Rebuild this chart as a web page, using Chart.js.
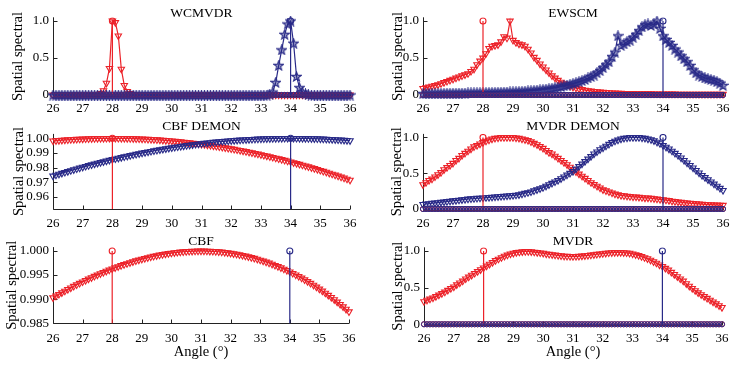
<!DOCTYPE html>
<html>
<head>
<meta charset="utf-8">
<script src="https://cdn.jsdelivr.net/npm/chart.js@4.4.1/dist/chart.umd.min.js"></script>
<style>
html, body { margin: 0; padding: 0; background: #fff; }
#fig { position: relative; width: 740px; height: 369px; overflow: hidden; background: #fff; }
#fig canvas { position: absolute; }
</style>
</head>
<body>
<div id="fig"></div>
<script>
// angle grid (degrees)
const angles = [
  26.0,26.1,26.2,26.3,26.4,26.5,26.6,26.7,26.8,26.9,
  27.0,27.1,27.2,27.3,27.4,27.5,27.6,27.7,27.8,27.9,
  28.0,28.1,28.2,28.3,28.4,28.5,28.6,28.7,28.8,28.9,
  29.0,29.1,29.2,29.3,29.4,29.5,29.6,29.7,29.8,29.9,
  30.0,30.1,30.2,30.3,30.4,30.5,30.6,30.7,30.8,30.9,
  31.0,31.1,31.2,31.3,31.4,31.5,31.6,31.7,31.8,31.9,
  32.0,32.1,32.2,32.3,32.4,32.5,32.6,32.7,32.8,32.9,
  33.0,33.1,33.2,33.3,33.4,33.5,33.6,33.7,33.8,33.9,
  34.0,34.1,34.2,34.3,34.4,34.5,34.6,34.7,34.8,34.9,
  35.0,35.1,35.2,35.3,35.4,35.5,35.6,35.7,35.8,35.9,
  36.0
];
const xTicks = [26, 27, 28, 29, 30, 31, 32, 33, 34, 35, 36];
const unitTicks = [0, 0.5, 1];
const unitTickLabels = ['0', '0.5', '1.0'];
const cbfDemonTicks = [0.96, 0.97, 0.98, 0.99, 1.00];
const cbfDemonTickLabels = ['0.96', '0.97', '0.98', '0.99', '1.00'];
const cbfTicks = [0.985, 0.990, 0.995, 1.000];
const cbfTickLabels = ['0.985', '0.990', '0.995', '1.000'];

// true source directions (stems)
const sourceAngles = [28, 34];
const stemTop = 1;
const stemBase = [
  0,0,0,0,0,0,0,0,0,0, 0,0,0,0,0,0,0,0,0,0, 0,0,0,0,0,0,0,0,0,0,
  0,0,0,0,0,0,0,0,0,0, 0,0,0,0,0,0,0,0,0,0, 0,0,0,0,0,0,0,0,0,0,
  0,0,0,0,0,0,0,0,0,0, 0,0,0,0,0,0,0,0,0,0, 0,0,0,0,0,0,0,0,0,0,
  0,0,0,0,0,0,0,0,0,0, 0
];

const wcmvdrRed = [
  0,0,0,0,0,0,0,0,0,0,
  0,0,0,0,0,0.005,0.02,0.06,0.16,0.36,
  1.0,0.98,0.80,0.35,0.13,0.05,0.02,0.008,0.003,0,
  0,0,0,0,0,0,0,0,0,0, 0,0,0,0,0,0,0,0,0,0, 0,0,0,0,0,0,0,0,0,0,
  0,0,0,0,0,0,0,0,0,0, 0,0,0,0,0,0,0,0,0,0, 0,0,0,0,0,0,0,0,0,0,
  0,0,0,0,0,0,0,0,0,0, 0
];
const wcmvdrBlue = [
  0,0,0,0,0,0,0,0,0,0, 0,0,0,0,0,0,0,0,0,0, 0,0,0,0,0,0,0,0,0,0,
  0,0,0,0,0,0,0,0,0,0, 0,0,0,0,0,0,0,0,0,0, 0,0,0,0,0,0,0,0,0,0,
  0,0,0,0,0,0,0,0,0,0,
  0,0,0,0.01,0.04,0.17,0.40,0.61,0.82,0.96,
  1.0,0.70,0.25,0.10,0.04,0.015,0.005,0,0,0,
  0,0,0,0,0,0,0,0,0,0, 0
];

const ewscmRed = [
  0.09,0.10,0.11,0.12,0.13,0.14,0.155,0.17,0.185,0.20,
  0.215,0.23,0.245,0.26,0.275,0.29,0.32,0.35,0.41,0.46,
  0.50,0.56,0.63,0.66,0.67,0.68,0.72,0.79,0.77,1.00,
  0.74,0.71,0.69,0.68,0.66,0.62,0.57,0.51,0.47,0.42,
  0.38,0.34,0.30,0.26,0.23,0.20,0.175,0.155,0.14,0.12,
  0.105,0.095,0.085,0.075,0.067,0.06,0.055,0.05,0.045,0.041,
  0.038,0.035,0.032,0.03,0.028,0.026,0.024,0.023,0.022,0.021,
  0.02,0.019,0.019,0.018,0.018,0.017,0.017,0.016,0.016,0.015,
  0.015,0.015,0.014,0.014,0.014,0.013,0.013,0.013,0.012,0.012,
  0.012,0.012,0.011,0.011,0.011,0.011,0.010,0.010,0.010,0.010,
  0.010
];
const ewscmBlue = [
  0.020,0.020,0.021,0.021,0.022,0.022,0.023,0.023,0.024,0.024,
  0.025,0.025,0.026,0.026,0.027,0.028,0.028,0.029,0.030,0.031,
  0.032,0.033,0.034,0.035,0.036,0.037,0.038,0.039,0.040,0.042,
  0.043,0.045,0.047,0.049,0.052,0.055,0.058,0.062,0.066,0.070,
  0.075,0.080,0.085,0.092,0.100,0.108,0.115,0.125,0.135,0.145,
  0.155,0.167,0.180,0.195,0.210,0.230,0.250,0.270,0.300,0.330,
  0.370,0.410,0.450,0.520,0.580,0.800,0.670,0.690,0.720,0.740,
  0.780,0.820,0.870,0.920,0.950,0.960,0.940,0.960,1.000,0.900,
  0.800,0.750,0.710,0.670,0.620,0.580,0.530,0.490,0.450,0.400,
  0.340,0.300,0.270,0.250,0.230,0.220,0.210,0.200,0.180,0.160,
  0.130
];

const cbfDemonRed = [
  0.99821,0.99839,0.99855,0.99871,0.99886,0.99899,0.99912,0.99924,0.99936,0.99946,
  0.99955,0.99964,0.99971,0.99978,0.99984,0.99989,0.99993,0.99996,0.99998,1.00000,
  1.00000,1.00000,0.99998,0.99996,0.99993,0.99989,0.99984,0.99978,0.99971,0.99964,
  0.99955,0.99946,0.99936,0.99924,0.99912,0.99899,0.99886,0.99871,0.99855,0.99839,
  0.99821,0.99803,0.99784,0.99764,0.99743,0.99721,0.99698,0.99674,0.99650,0.99624,
  0.99598,0.99570,0.99542,0.99513,0.99483,0.99452,0.99421,0.99388,0.99355,0.99320,
  0.99285,0.99249,0.99211,0.99173,0.99135,0.99095,0.99054,0.99013,0.98970,0.98927,
  0.98883,0.98837,0.98791,0.98744,0.98697,0.98648,0.98598,0.98548,0.98496,0.98444,
  0.98391,0.98337,0.98282,0.98226,0.98169,0.98111,0.98053,0.97993,0.97933,0.97872,
  0.97810,0.97747,0.97683,0.97618,0.97552,0.97486,0.97418,0.97350,0.97280,0.97210,
  0.97139
];
const cbfDemonBlue = [
  0.97421,0.97485,0.97548,0.97611,0.97672,0.97733,0.97793,0.97852,0.97911,0.97968,
  0.98025,0.98081,0.98137,0.98191,0.98245,0.98297,0.98349,0.98400,0.98451,0.98500,
  0.98549,0.98597,0.98644,0.98691,0.98736,0.98781,0.98825,0.98868,0.98910,0.98952,
  0.98993,0.99032,0.99072,0.99110,0.99147,0.99184,0.99220,0.99255,0.99289,0.99323,
  0.99355,0.99387,0.99418,0.99448,0.99478,0.99506,0.99534,0.99561,0.99587,0.99613,
  0.99637,0.99661,0.99684,0.99706,0.99728,0.99748,0.99768,0.99787,0.99805,0.99822,
  0.99839,0.99855,0.99869,0.99884,0.99897,0.99909,0.99921,0.99932,0.99942,0.99951,
  0.99960,0.99967,0.99974,0.99980,0.99985,0.99990,0.99994,0.99996,0.99998,1.00000,
  1.00000,1.00000,0.99998,0.99996,0.99994,0.99990,0.99985,0.99980,0.99974,0.99967,
  0.99960,0.99951,0.99942,0.99932,0.99921,0.99909,0.99897,0.99884,0.99869,0.99855,
  0.99839
];

const mvdrDemonRed = [
  0.34,0.37,0.40,0.42,0.45,0.48,0.51,0.55,0.58,0.61,
  0.64,0.68,0.71,0.75,0.78,0.81,0.84,0.87,0.89,0.91,
  0.93,0.95,0.965,0.98,0.99,0.995,1.0,1.0,1.0,1.0,
  1.0,0.995,0.99,0.98,0.97,0.96,0.94,0.92,0.90,0.875,
  0.85,0.82,0.79,0.77,0.74,0.71,0.68,0.65,0.62,0.585,
  0.55,0.52,0.49,0.46,0.43,0.40,0.37,0.345,0.32,0.295,
  0.27,0.255,0.24,0.225,0.21,0.20,0.19,0.185,0.18,0.175,
  0.17,0.17,0.165,0.16,0.155,0.155,0.15,0.145,0.14,0.135,
  0.13,0.125,0.12,0.11,0.105,0.10,0.095,0.09,0.085,0.08,
  0.077,0.074,0.071,0.068,0.065,0.062,0.06,0.058,0.056,0.054,
  0.052
];
const mvdrDemonBlue = [
  0.065,0.07,0.075,0.08,0.085,0.09,0.095,0.10,0.105,0.11,
  0.115,0.12,0.125,0.13,0.135,0.14,0.143,0.146,0.15,0.153,
  0.156,0.16,0.163,0.166,0.17,0.173,0.176,0.18,0.183,0.187,
  0.19,0.195,0.20,0.21,0.22,0.23,0.24,0.255,0.27,0.285,
  0.30,0.32,0.34,0.36,0.38,0.40,0.425,0.45,0.475,0.50,
  0.525,0.56,0.595,0.63,0.665,0.70,0.735,0.77,0.80,0.83,
  0.855,0.88,0.905,0.93,0.95,0.965,0.98,0.99,0.995,1.0,
  1.0,1.0,1.0,0.995,0.99,0.98,0.97,0.955,0.935,0.915,
  0.89,0.865,0.84,0.81,0.78,0.75,0.715,0.68,0.645,0.61,
  0.575,0.54,0.505,0.47,0.44,0.41,0.38,0.35,0.32,0.29,
  0.26
];

const cbfRed = [
  0.99030,0.99066,0.99101,0.99135,0.99169,0.99203,0.99235,0.99268,0.99299,0.99330,
  0.99361,0.99390,0.99420,0.99448,0.99476,0.99503,0.99530,0.99556,0.99581,0.99606,
  0.99630,0.99653,0.99676,0.99698,0.99719,0.99739,0.99759,0.99778,0.99797,0.99814,
  0.99831,0.99847,0.99862,0.99877,0.99891,0.99904,0.99916,0.99927,0.99938,0.99948,
  0.99957,0.99965,0.99972,0.99979,0.99984,0.99989,0.99993,0.99996,0.99998,1.00000,
  1.00000,1.00000,0.99998,0.99996,0.99993,0.99989,0.99984,0.99978,0.99971,0.99963,
  0.99954,0.99944,0.99934,0.99922,0.99909,0.99896,0.99881,0.99865,0.99849,0.99831,
  0.99812,0.99793,0.99772,0.99750,0.99727,0.99703,0.99678,0.99652,0.99625,0.99597,
  0.99567,0.99537,0.99505,0.99473,0.99439,0.99404,0.99368,0.99331,0.99292,0.99253,
  0.99212,0.99170,0.99127,0.99083,0.99038,0.98991,0.98943,0.98894,0.98844,0.98793,
  0.98740
];

const mvdrRed = [
  0.31,0.33,0.345,0.36,0.38,0.40,0.42,0.44,0.465,0.49,
  0.51,0.54,0.565,0.59,0.62,0.645,0.67,0.695,0.72,0.745,
  0.77,0.795,0.82,0.845,0.87,0.89,0.91,0.93,0.945,0.96,
  0.97,0.98,0.985,0.99,0.993,0.993,0.99,0.985,0.98,0.975,
  0.97,0.96,0.955,0.95,0.945,0.94,0.935,0.93,0.928,0.926,
  0.925,0.926,0.928,0.932,0.936,0.94,0.945,0.95,0.955,0.96,
  0.965,0.97,0.975,0.978,0.98,0.98,0.98,0.978,0.975,0.97,
  0.96,0.95,0.94,0.925,0.91,0.895,0.875,0.855,0.835,0.81,
  0.79,0.765,0.74,0.71,0.68,0.65,0.62,0.59,0.555,0.52,
  0.49,0.46,0.43,0.405,0.38,0.355,0.33,0.305,0.28,0.255,
  0.23
];

const RED = '#ec2229';
const BLUE = '#292a88';
const AXIS = '#222';
const TEXT = '#000';
const NONE = 'rgba(255,255,255,0)';
Chart.defaults.font.family = '"Liberation Serif", "Times New Roman", serif';
const tickFont = { size: 13 };
const labelFont = { size: 14.5 };

// page-space layout of each subplot: canvas box [l, t, w, h] and axes box [l, t, r, b]
const panels = [
  { title: 'WCMVDR', box: [0, 0, 370, 120], area: [53, 17.3, 350, 95.74], y: [-0.01, 1.05],
    yt: unitTicks, yl: unitTickLabels, titleY: 13.3, yTitleX: 18, gap: 4.8, red: wcmvdrRed, blue: wcmvdrBlue, star: true },
  { title: 'EWSCM', box: [370, 0, 370, 120], area: [423, 17.3, 723, 95.74], y: [-0.01, 1.05],
    yt: unitTicks, yl: unitTickLabels, titleY: 13.3, yTitleX: 398, gap: 4.8, red: ewscmRed, blue: ewscmBlue, star: true },
  { title: 'CBF DEMON', box: [0, 112, 370, 126], area: [53, 133.9, 350, 209], y: [0.9516, 1.003],
    yt: cbfDemonTicks, yl: cbfDemonTickLabels, titleY: 126.7, yTitleX: 19, gap: 6.5, red: cbfDemonRed, blue: cbfDemonBlue },
  { title: 'MVDR DEMON', box: [370, 112, 370, 126], area: [423, 133.9, 723, 209.7], y: [-0.01, 1.05],
    yt: unitTicks, yl: unitTickLabels, titleY: 126, yTitleX: 397.5, gap: 5.8, red: mvdrDemonRed, blue: mvdrDemonBlue },
  { title: 'CBF', box: [0, 228, 370, 141], area: [53, 247.1, 349, 323.3], y: [0.985, 1.0008],
    yt: cbfTicks, yl: cbfTickLabels, titleY: 241.7, yTitleX: 12.5, gap: 7.2, xTitle: true, red: cbfRed },
  { title: 'MVDR', box: [370, 228, 370, 141], area: [424, 247.3, 722, 325], y: [-0.01, 1.05],
    yt: unitTicks, yl: unitTickLabels, titleY: 241.7, yTitleX: 398, gap: 6.2, xTitle: true, red: mvdrRed }
];

// pentagram marker like matlab 'p'
function makeStar(color) {
  const c = document.createElement('canvas');
  c.width = 11; c.height = 11;
  const g = c.getContext('2d');
  g.beginPath();
  for (let k = 0; k < 10; k++) {
    const r = k % 2 ? 2.1 : 5;
    const a = -Math.PI / 2 + k * Math.PI / 5;
    const px = 5.5 + r * Math.cos(a), py = 5.9 + r * Math.sin(a);
    if (k) g.lineTo(px, py); else g.moveTo(px, py);
  }
  g.closePath();
  g.fillStyle = 'rgba(41,42,136,0.45)';
  g.fill();
  g.strokeStyle = color; g.lineWidth = 1.1;
  g.stroke();
  return c;
}
const starBlue = makeStar(BLUE);

// axes lines, inward ticks and the subplot title
const deco = {
  id: 'deco',
  beforeDatasetsDraw(chart) {
    const { ctx, chartArea: a, scales: { x, y } } = chart;
    ctx.save();
    ctx.strokeStyle = AXIS;
    ctx.lineWidth = 1;
    ctx.beginPath();
    const lx = Math.round(a.left) + 0.5, by = Math.round(a.bottom) + 0.5;
    ctx.moveTo(lx, a.top);
    ctx.lineTo(lx, by);
    ctx.lineTo(a.right, by);
    x.ticks.forEach(t => {
      const px = Math.round(x.getPixelForValue(t.value)) + 0.5;
      ctx.moveTo(px, by); ctx.lineTo(px, by - 4);
    });
    y.ticks.forEach(t => {
      const py = Math.round(y.getPixelForValue(t.value)) + 0.5;
      ctx.moveTo(lx, py); ctx.lineTo(lx + 4, py);
    });
    ctx.stroke();
    ctx.restore();
  },
  afterDraw(chart, args, o) {
    const { ctx, chartArea: a } = chart;
    ctx.save();
    ctx.font = '13.5px "Liberation Serif", serif';
    ctx.fillStyle = TEXT;
    ctx.textAlign = 'center';
    ctx.textBaseline = 'middle';
    ctx.fillText(o.text, (a.left + a.right) / 2, o.y);
    ctx.restore();
  }
};

function buildSets(p) {
  const toPts = ys => angles.map((x, i) => ({ x, y: ys[i] }));
  const stem = (at, color) => ({
    data: [{ x: at, y: 0 }, { x: at, y: stemTop }],
    borderColor: color, borderWidth: 1.2,
    pointRadius: [0, 3], pointStyle: 'circle',
    pointBorderColor: color, pointBackgroundColor: NONE, pointBorderWidth: 1.1
  });
  const base = color => ({
    data: toPts(stemBase),
    borderColor: color, borderWidth: 1.2,
    pointRadius: 2.6, pointStyle: 'circle',
    pointBorderColor: color, pointBackgroundColor: NONE, pointBorderWidth: 1,
    clip: 6
  });
  const curve = (ys, color, style) => ({
    data: toPts(ys),
    borderColor: color, borderWidth: 1.2,
    pointStyle: style, pointRotation: style === 'triangle' ? 180 : 0,
    pointRadius: 3.7,
    pointBorderColor: color, pointBackgroundColor: NONE, pointBorderWidth: 1.1,
    clip: 6
  });
  // first dataset is drawn on top
  const sets = [stem(sourceAngles[1], BLUE), base(BLUE), stem(sourceAngles[0], RED), base(RED)];
  if (p.blue) sets.push(curve(p.blue, BLUE, p.star ? starBlue : 'triangle'));
  sets.push(curve(p.red, RED, 'triangle'));
  return sets;
}

const fig = document.getElementById('fig');
panels.forEach(p => {
  const [bl, bt, bw, bh] = p.box;
  const [al, at, ar, ab] = p.area;
  const cv = document.createElement('canvas');
  cv.width = bw; cv.height = bh;
  cv.style.left = bl + 'px'; cv.style.top = bt + 'px';
  cv.style.width = bw + 'px'; cv.style.height = bh + 'px';
  fig.appendChild(cv);
  new Chart(cv, {
    type: 'line',
    data: { datasets: buildSets(p) },
    options: {
      responsive: false,
      animation: false,
      events: [],
      elements: { line: { tension: 0 } },
      layout: { padding: { left: 0, top: at - bt, right: bl + bw - ar, bottom: 0 } },
      plugins: {
        legend: { display: false },
        tooltip: { enabled: false },
        deco: { text: p.title, y: p.titleY - bt }
      },
      scales: {
        x: {
          type: 'linear', min: 26, max: 36, bounds: 'data',
          grid: { display: false, drawTicks: false },
          border: { display: false },
          afterBuildTicks: s => { s.ticks = xTicks.map(v => ({ value: v })); },
          afterFit: s => { s.height = bt + bh - ab; },
          ticks: { padding: p.gap, font: tickFont, color: TEXT, maxRotation: 0, autoSkip: false,
                   callback: v => String(v) },
          title: { display: !!p.xTitle, text: 'Angle (°)', font: labelFont, color: TEXT,
                   padding: { top: 0, bottom: 8.6 } }
        },
        y: {
          type: 'linear', min: p.y[0], max: p.y[1], bounds: 'data',
          grid: { display: false, drawTicks: false },
          border: { display: false },
          afterBuildTicks: s => { s.ticks = p.yt.map(v => ({ value: v })); },
          afterFit: s => { s.width = al - bl; },
          ticks: { padding: 4, font: tickFont, color: TEXT, autoSkip: false,
                   callback: (v, i) => p.yl[i] },
          title: { display: true, text: 'Spatial spectral', font: labelFont, color: TEXT,
                   padding: { top: p.yTitleX - bl - 8.7, bottom: 0 } }
        }
      }
    },
    plugins: [deco]
  });
});
</script>
</body>
</html>
